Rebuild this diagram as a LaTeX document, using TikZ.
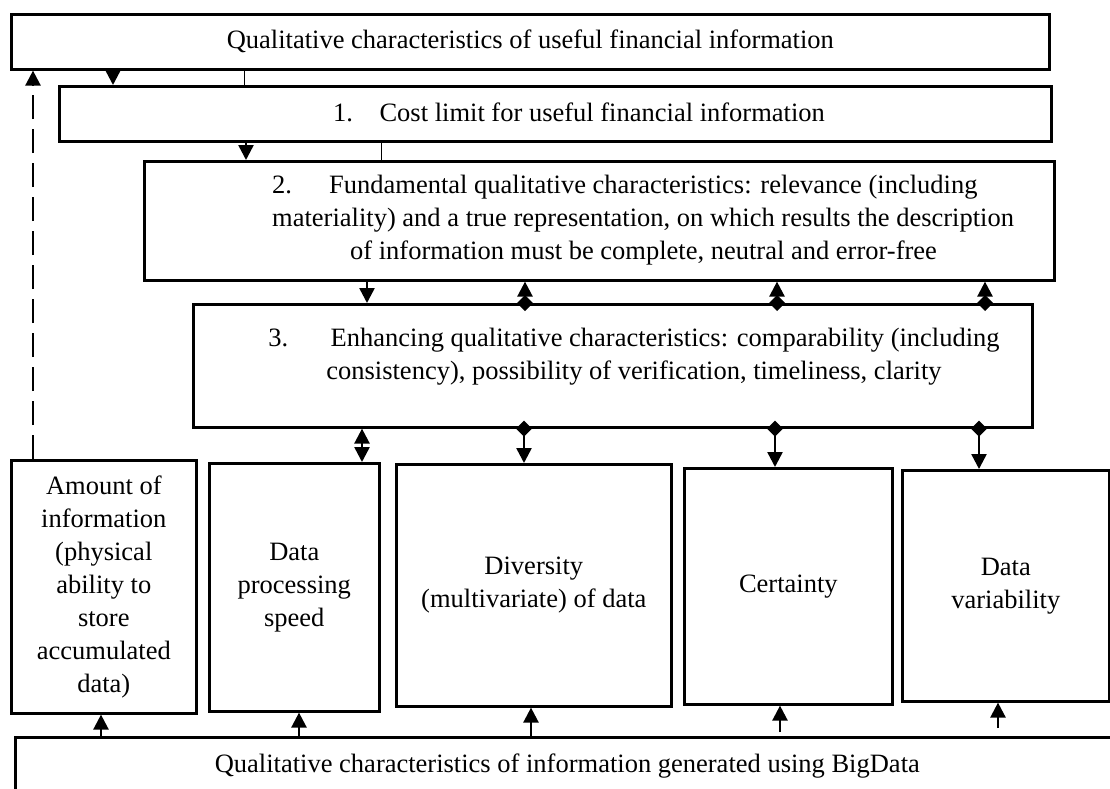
\documentclass[tikz,border=0pt]{standalone}
\usepackage{fontspec}
\setmainfont{Liberation Serif}
\usetikzlibrary{arrows.meta}
\begin{document}
\begin{tikzpicture}[x=1pt,y=-1pt,
        box/.style={draw, line width=2.6pt, anchor=north west, inner sep=0pt, align=center, font=\fontsize{26.5}{33}\selectfont},
        txt/.style={inner sep=0pt, font=\fontsize{26.5}{33}\selectfont},
        arr/.style={line width=2.5pt, -{Triangle[length=15pt,width=15pt]}},
        darr/.style={line width=2.5pt, {Triangle[length=15pt,width=15pt]}-{Triangle[length=15pt,width=15pt]}},
        dia/.style={line width=2.5pt, {Diamond[length=16pt,width=16pt]}-{Triangle[length=15pt,width=15pt]}, shorten <=-8pt}]
        \useasboundingbox (0,0) rectangle (1110,788);

        \node[box, minimum width=1038pt, minimum height=55pt] (top) at (10,13) {Qualitative characteristics of useful financial information};
        \node[box, minimum width=992pt, minimum height=55pt] (cost) at (58,85) {};
        \node[txt] (costtxt) at (579,112.5) {1.\hspace{1em}Cost limit for useful financial information};
        \node[box, minimum width=910pt, minimum height=119pt] (fund) at (143,160) {};
        \node[txt, anchor=west, align=left] (fundtxt) at (272,220) {2.\hspace{1.4em}Fundamental qualitative characteristics: relevance (including\\materiality) and a true representation, on which results the description\\\hspace*{78pt}of information must be complete, neutral and error-free};
        \node[box, minimum width=839pt, minimum height=123pt] (enh) at (192,303) {};
        \node[txt, align=center] (enhtxt) at (634,357) {3.\hspace{1.6em}Enhancing qualitative characteristics: comparability (including\\consistency), possibility of verification, timeliness, clarity};

        \node[box, minimum width=185pt, minimum height=253pt] (amt) at (10,459) {Amount of\\information\\(physical\\ability to\\store\\accumulated\\data)};
        \node[box, minimum width=170pt, minimum height=248pt] (speed) at (208,462) {Data\\processing\\speed};
        \node[box, minimum width=275pt, minimum height=242pt] (div) at (395,463) {Diversity\\(multivariate) of data};
        \node[box, minimum width=208pt, minimum height=236pt] (cert) at (683,467) {Certainty};
        \node[box, minimum width=207pt, minimum height=231pt] (var) at (901,469) {Data\\variability};
        \node[box, minimum width=1104pt, minimum height=58pt] (big) at (14,736) {Qualitative characteristics of information generated using BigData};

        \draw[arr] (113,0 |- top.south) -- (113,0 |- cost.north);
        \draw[line width=1pt] (244,0 |- top.south) -- (244,0 |- cost.north);
        \draw[arr] (246,0 |- cost.south) -- (246,0 |- fund.north);
        \draw[line width=1pt] (381,0 |- cost.south) -- (381,0 |- fund.north);
        \draw[arr, dash pattern=on 24pt off 10pt] (33,0 |- amt.north) -- (33,0 |- top.south);

        \draw[arr] (367,0 |- fund.south) -- (367,0 |- enh.north);
        \foreach \x in {525,777,985}
            \draw[dia] (\x,0 |- enh.north) -- (\x,0 |- fund.south);

        \draw[darr] (362,0 |- enh.south) -- (362,0 |- speed.north);
        \draw[dia] (524,0 |- enh.south) -- (524,0 |- div.north);
        \draw[dia] (775,0 |- enh.south) -- (775,0 |- cert.north);
        \draw[dia] (979,0 |- enh.south) -- (979,0 |- var.north);

        \draw[arr] (101,0 |- big.north) -- (101,0 |- amt.south);
        \draw[arr] (299,0 |- big.north) -- (299,0 |- speed.south);
        \draw[arr] (531,0 |- big.north) -- (531,0 |- div.south);
        \draw[arr] (780,732) -- (780,0 |- cert.south);
        \draw[arr] (998,728) -- (998,0 |- var.south);
\end{tikzpicture}
\end{document}
